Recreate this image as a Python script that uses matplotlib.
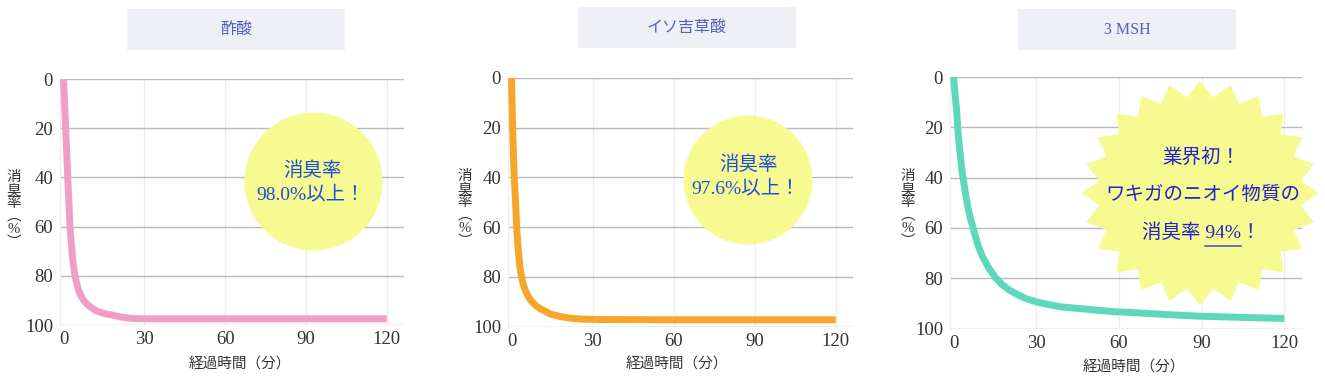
import numpy as np
import matplotlib.pyplot as plt
from matplotlib.patches import Rectangle, Circle, Polygon

plt.rcParams['font.family'] = ['Liberation Serif', 'Noto Sans CJK JP']

W, H = 1325, 385

# データ（経過時間[分], 消臭率[%]）
titles = ['酢酸', 'イソ吉草酸', '3 MSH']

t_acetic = [0, 0.4, 0.8, 1.2, 1.55, 2.0, 2.4, 2.7, 3.0, 3.3, 3.6, 3.9, 4.2, 4.55, 4.9,
            5.4, 6.0, 6.7, 7.4, 8.4, 9.5, 10.6, 11.7, 13.0, 14.5, 16.2, 17.9, 21,
            25.3, 30, 60, 90, 120]
r_acetic = [0, 10, 20, 30, 40, 50, 60, 64.5, 68, 71.8, 74.9, 77.4, 79.5, 81.4, 83,
            85.2, 87, 88.6, 89.8, 91.2, 92.2, 93.1, 93.9, 94.6, 95.1, 95.6, 95.9, 96.7,
            97.3, 97.5, 97.5, 97.5, 97.5]

t_iso = [0, 0.4, 1.0, 1.5, 1.9, 2.2, 2.5, 2.8, 3.1, 3.45, 3.8, 4.2, 4.6, 5.3, 6.0,
         6.7, 7.5, 8.5, 9.5, 10.6, 11.8, 13.1, 14.5, 16.2, 18, 21.5, 25.4, 32.8,
         60, 90, 120]
r_iso = [0, 20, 40, 50, 60, 65, 69, 72.6, 75.8, 78.4, 80.5, 82.4, 83.9, 85.9, 87.5,
         88.8, 89.9, 91.1, 92, 92.8, 93.5, 94.3, 95, 95.5, 96, 96.6, 97, 97.2,
         97.3, 97.3, 97.3]

t_msh = [0, 0.5, 1.1, 1.5, 2.0, 2.9, 3.5, 4.4, 5.5, 6.6, 7.1, 8.0, 9.0, 10.5, 12.6,
         15, 17.4, 20, 23.5, 26.5, 30, 34, 39, 45, 51, 58, 67, 78, 89, 105, 120]
r_msh = [0, 6.5, 13.2, 20, 26.5, 36, 40.5, 47, 53.5, 58.3, 60, 63.8, 67.3, 71.5, 75.6,
         79.5, 82.3, 84.6, 86.7, 88.2, 89.4, 90.4, 91.4, 92.0, 92.6, 93.3, 93.8,
         94.5, 95.1, 95.6, 96.0]

x_ticks = [0, 30, 60, 90, 120]
y_ticks = [0, 20, 40, 60, 80, 100]

series = [(t_acetic, r_acetic, '#f19ec6'),
          (t_iso, r_iso, '#f8a52b'),
          (t_msh, r_msh, '#5dd8bb')]

# 配置（ピクセル）
ax_boxes = [(60, 79, 344, 246), (508, 78, 345, 248.5), (950, 77, 352, 251.5)]
title_boxes = [(127, 9), (578, 7), (1018, 9)]
ylabel_pos = [(14, 210), (465, 209), (908, 209)]
xlabel_pos = [(240, 365), (677, 365), (1134, 368)]

fig = plt.figure(figsize=(W / 100, H / 100), dpi=100)

for (t, r, c), (l, tp, w, h) in zip(series, ax_boxes):
    ax = fig.add_axes([l / W, 1 - (tp + h) / H, w / W, h / H])
    ax.plot(t, r, color=c, lw=5, solid_capstyle='butt', solid_joinstyle='round', zorder=3)
    ax.set_xlim(-1.3, 126.4)
    ax.set_ylim(100, 0)
    ax.set_xticks(x_ticks)
    ax.set_yticks(y_ticks)
    for y in y_ticks:
        ax.axhline(y, color='#b9b9b9', lw=1.0, zorder=1)
    for x in x_ticks[1:]:
        ax.axvline(x, color='#ebebeb', lw=0.9, zorder=0)
    for s in ['top', 'right', 'bottom']:
        ax.spines[s].set_visible(False)
    ax.spines['left'].set_color('#ececec')
    ax.tick_params(length=0, labelsize=13.5, labelcolor='#333333')
    ax.tick_params(axis='y', pad=5)
    ax.tick_params(axis='x', pad=4.5)
    ax.patch.set_alpha(0)

ov = fig.add_axes([0, 0, 1, 1], zorder=5)
ov.set_xlim(0, W)
ov.set_ylim(H, 0)
ov.axis('off')

for (bx, by), name in zip(title_boxes, titles):
    ov.add_patch(Rectangle((bx, by), 218, 41, color='#eff0f5', lw=0))
    ov.text(bx + 109, by + 20.5, name, ha='center', va='center', fontsize=11.5, color='#5262b8')

for (x, y) in ylabel_pos:
    ov.text(x, y, '消\n臭\n率\n︵\n%\n︶', ha='center', va='center', fontsize=10.5,
            linespacing=1.0, color='#333333')
for (x, y) in xlabel_pos:
    ov.text(x, y, '経過時間（分）', ha='center', va='center', fontsize=10.5, color='#333333')

# 吹き出し
yellow = '#f6fa91'
blue = '#1d4fd8'
ov.add_patch(Circle((313.5, 181.5), 69, color=yellow, lw=0))
ov.text(313, 171, '消臭率', ha='center', va='center', fontsize=14, color=blue)
ov.text(311, 194, '98.0%以上！', ha='center', va='center', fontsize=14, color=blue)

ov.add_patch(Circle((748, 180), 64.5, color=yellow, lw=0))
ov.text(748, 165, '消臭率', ha='center', va='center', fontsize=14, color=blue)
ov.text(746, 188.5, '97.6%以上！', ha='center', va='center', fontsize=14, color=blue)

cx, cy, rx, ry, n = 1200, 193, 118, 112, 24
ang = np.pi / 2 + np.arange(2 * n) * np.pi / n
rad = np.where(np.arange(2 * n) % 2 == 0, 1.0, 0.86)
star = np.column_stack([cx + rx * rad * np.cos(ang), cy - ry * rad * np.sin(ang)])
ov.add_patch(Polygon(star, closed=True, color=yellow, lw=0))

navy = '#2323c8'
ov.text(1201, 157, '業界初！', ha='center', va='center', fontsize=14, color=navy)
ov.text(1203, 195, 'ワキガのニオイ物質の', ha='center', va='center', fontsize=14, color=navy)
line3 = '消臭率 94%！'
ov.text(1201, 233, line3, ha='center', va='center', fontsize=14, color=navy)

fig.canvas.draw()
rend = fig.canvas.get_renderer()


def text_w(s):
    tt = ov.text(0, 0, s, fontsize=14)
    w = tt.get_window_extent(rend).width
    tt.remove()
    return w


left = 1201 - text_w(line3) / 2
x_end = left + text_w('消臭率 94%')
x_start = x_end - text_w('94%')
ov.plot([x_start, x_end], [246, 246], color='#4a4ac8', lw=1.1)

fig.savefig('out.png', dpi=100)
